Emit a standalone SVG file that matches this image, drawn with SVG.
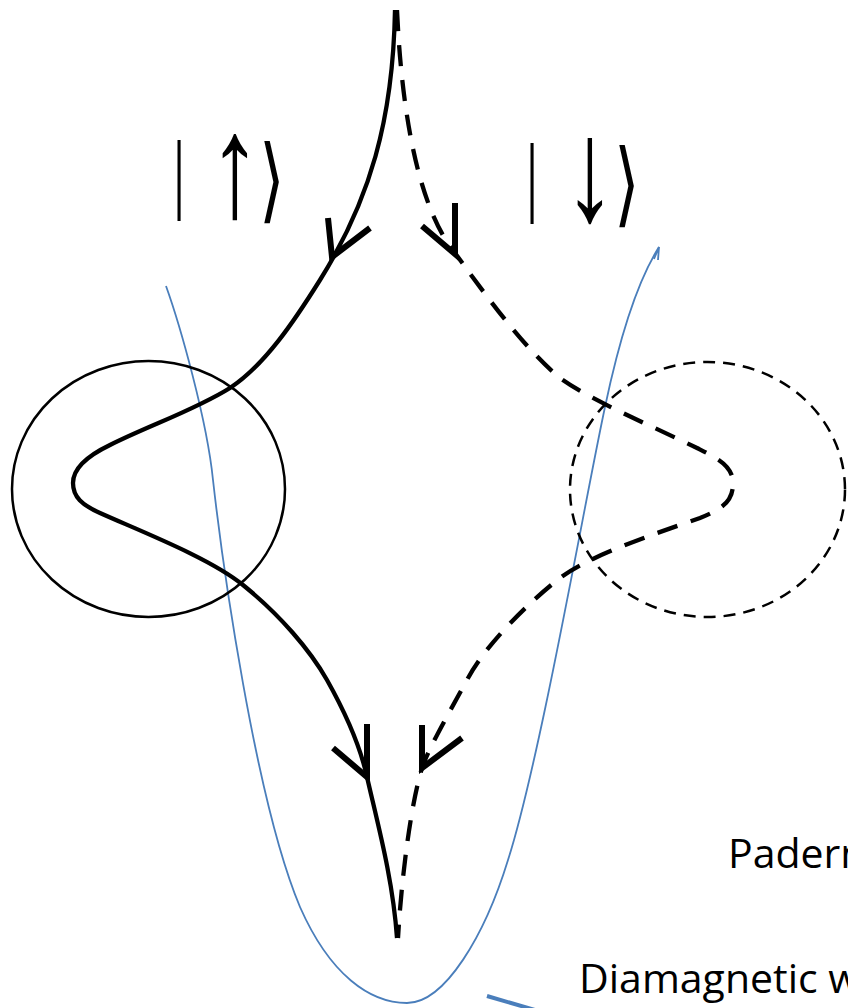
<svg xmlns="http://www.w3.org/2000/svg" width="848" height="1008" viewBox="0 0 848 1008">
<style>
.cur{fill:none;stroke:#000;stroke-width:4.3;stroke-linecap:butt}
.dash{stroke-dasharray:21,14}
.head{fill:none;stroke:#000;stroke-width:6;stroke-linejoin:miter;stroke-linecap:butt}
.ring{fill:none;stroke:#000;stroke-width:2.5}
.blue{fill:none;stroke:#4a7ebb;stroke-width:1.8}
.ket{fill:#000;text-anchor:middle}
.bar{font-family:"Liberation Serif",serif;font-size:63px}
.arr{font-family:"Liberation Serif",serif;font-size:104px}
.ang{font-family:"DejaVu Sans",sans-serif;font-size:66px}
.lbl{font-family:"Open Sans",sans-serif;font-size:41px;fill:#000}
</style>
<rect width="848" height="1008" fill="#fff"/>
<g id="blue-potential">
<path class="blue" d="M166,286 C180,325 207,420 213,480 C222,560 255,800 300,907 C330,975 370,1003 407,1003 C445,1003 485,935 508,860 C540,760 585,500 605,407 C617,350 635,285 659,247"/>
<path class="blue" d="M654,259 L659,247 L658,260"/>
<path fill="none" stroke="#4a7ebb" stroke-width="4" d="M487,996 L535,1010"/>
</g>
<g id="circle-up"><ellipse class="ring" cx="148.5" cy="489" rx="136.5" ry="128"/></g>
<g id="circle-down"><ellipse class="ring" cx="707.5" cy="489.5" rx="137.5" ry="127.5" stroke-dasharray="12,8"/></g>
<g id="connectors">
<path id="path-up" class="cur" d="M395,10 C393,120 370,200 320,280 C295,320 265,365 230,388 C195,410 150,425 110,445 C85,457 73,470 73,483 C73,497 82,505 100,513 C140,531 210,558 243,585 C280,615 310,650 327,680 C345,712 360,745 367,777 C378,825 393,880 397,938"/>
<path id="path-down" class="cur dash" d="M397,10 C402,120 420,210 455,253 C475,280 520,345 560,378 C590,400 650,425 697,448 C715,457 733,465 733,483 C733,500 725,508 700,518 C660,532 590,555 560,578 C530,601 485,645 467,680 C445,720 428,750 422,768 C412,800 402,870 398,938"/>
<polyline class="head" points="328,218 332,257 370,228"/>
<polyline class="head" points="422,226 455,254 455,203"/>
<polyline class="head" points="333,748 367,777 367,724"/>
<polyline class="head" points="422,725 422,768 462,738"/>
</g>
<g id="ket-up">
<text class="ket" transform="scale(1,1.4)"><tspan class="bar" x="179" y="144.5">|</tspan><tspan class="arr" x="235" y="154.3">↑</tspan><tspan class="ang" x="272" y="150.7">⟩</tspan></text>
</g>
<g id="ket-down">
<text class="ket" transform="scale(1,1.4)"><tspan class="bar" x="532" y="146.7">|</tspan><tspan class="arr" x="590" y="157.1">↓</tspan><tspan class="ang" x="627" y="153.6">⟩</tspan></text>
</g>
<g id="label-padern"><text class="lbl" x="728" y="868">Padern</text></g>
<g id="label-diamagnetic"><text class="lbl" x="579" y="993">Diamagnetic w</text></g>
</svg>
